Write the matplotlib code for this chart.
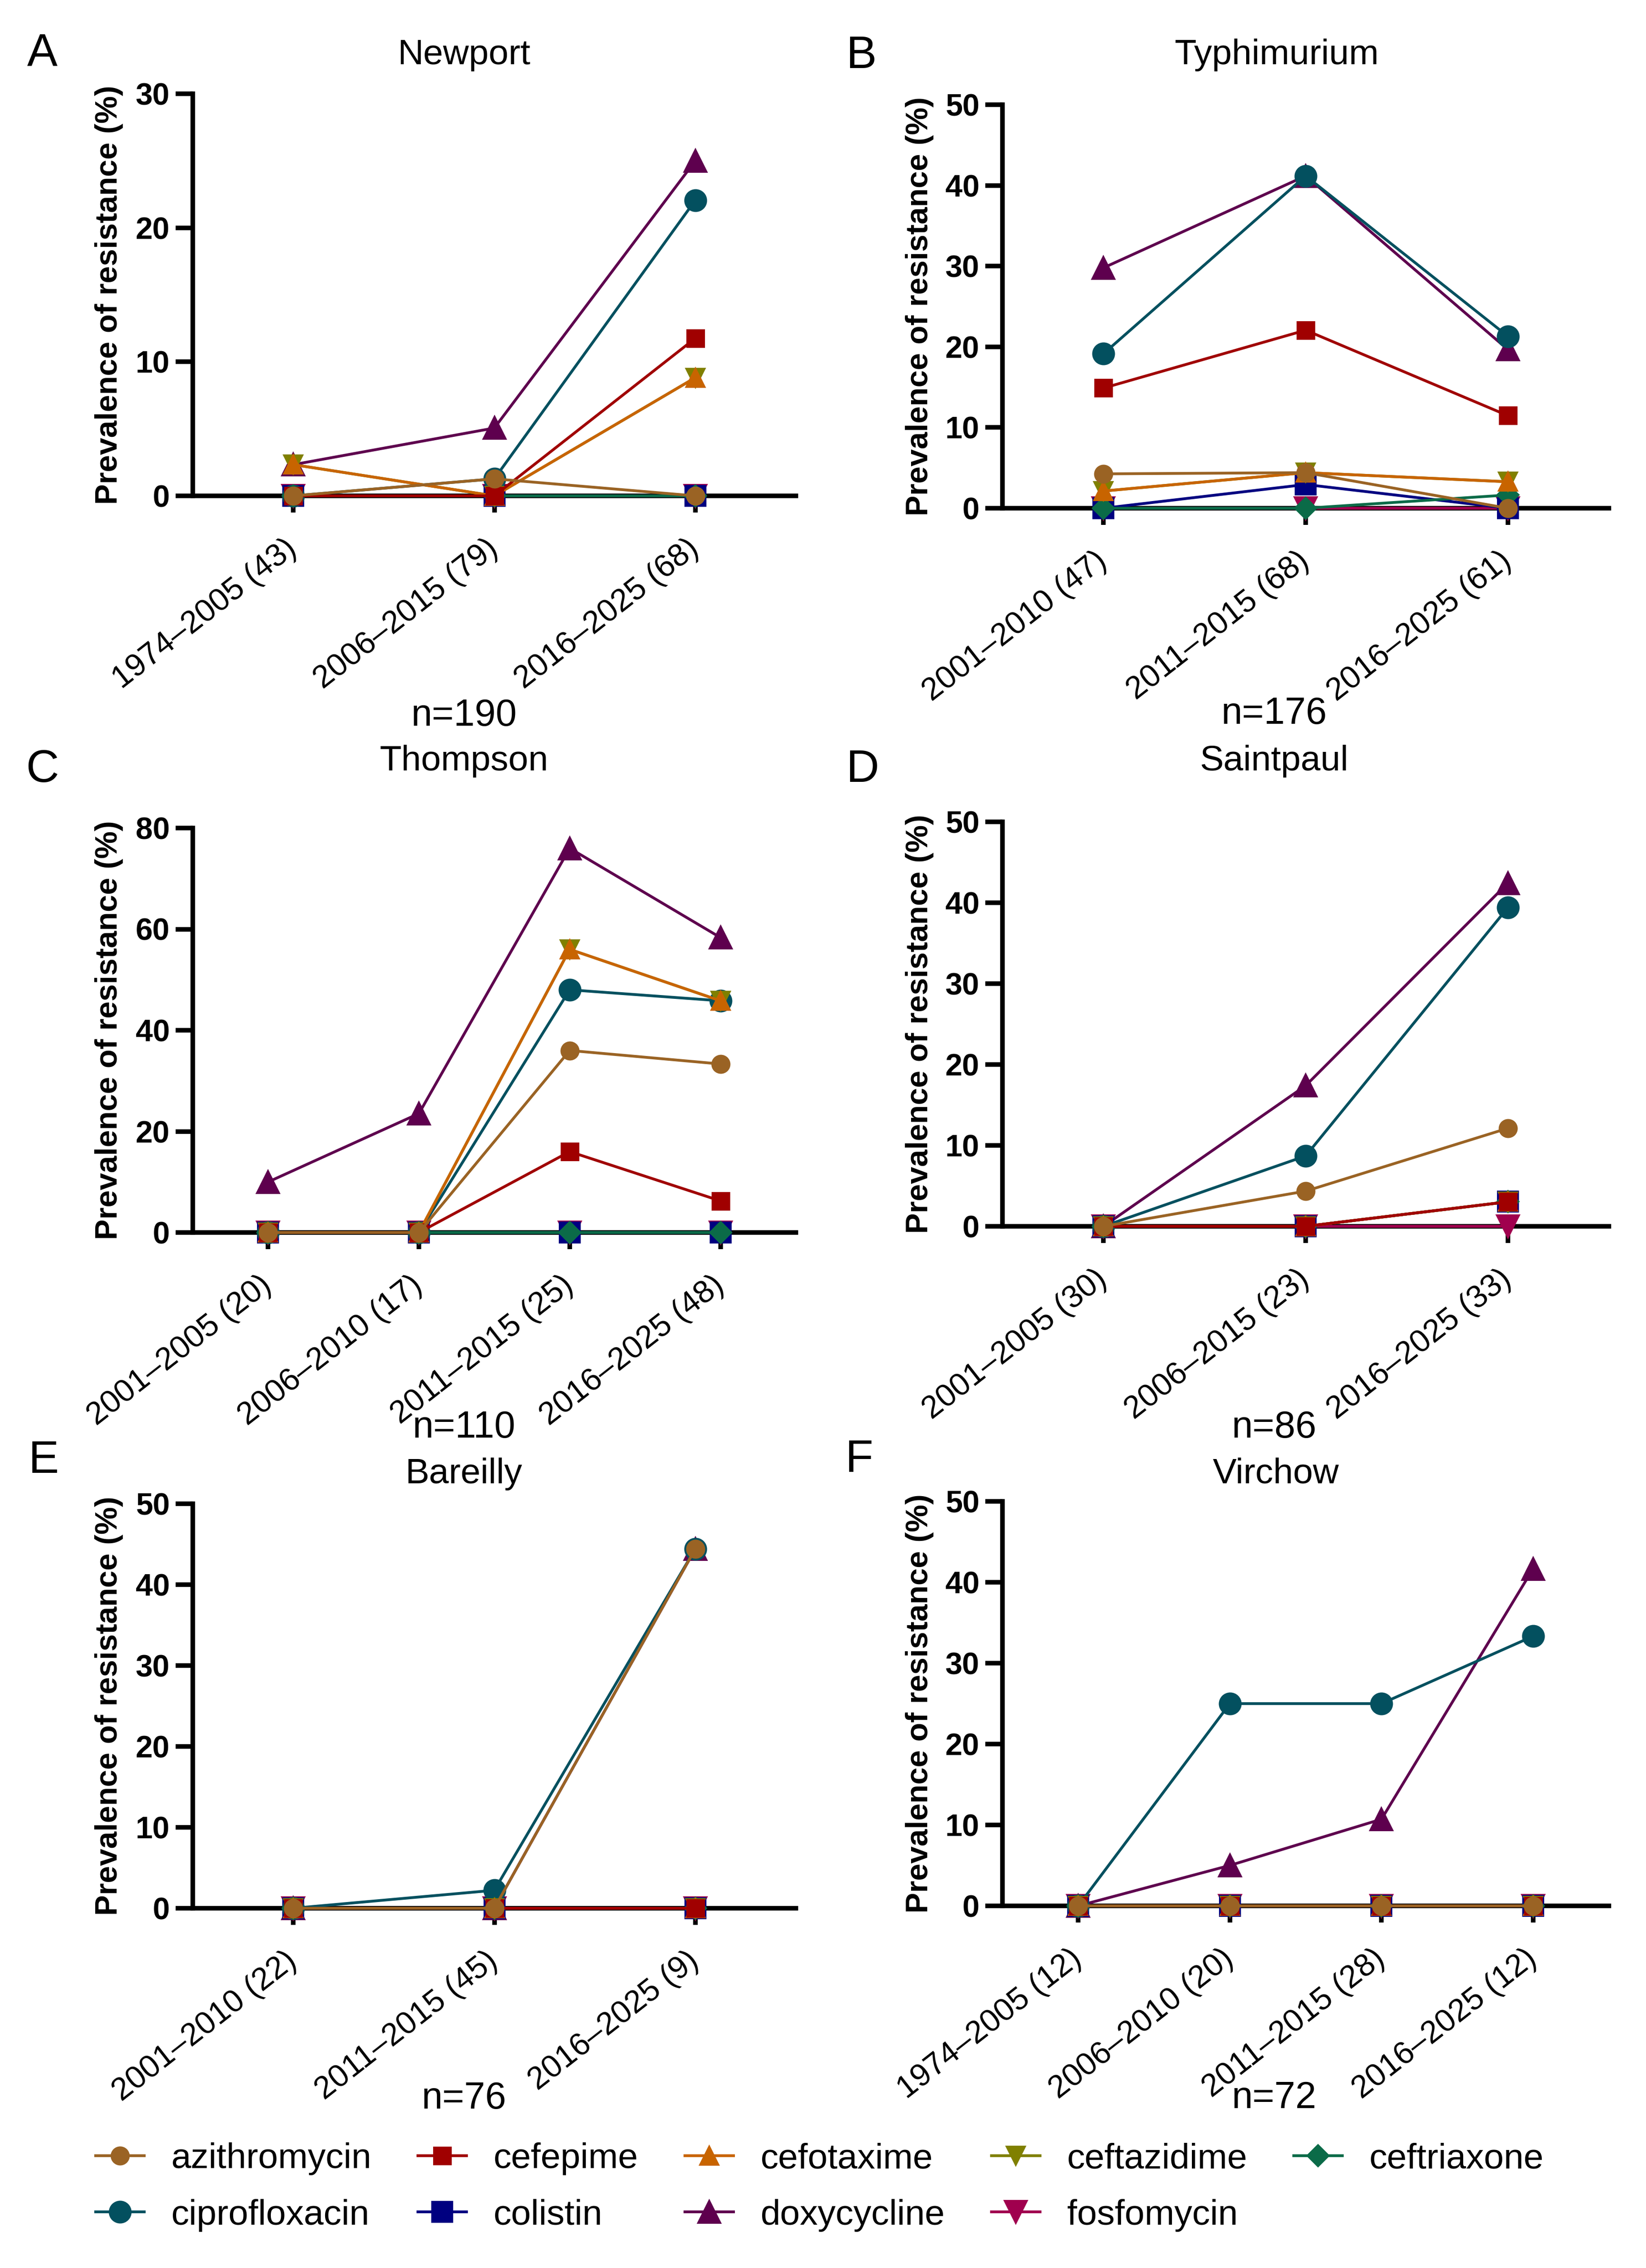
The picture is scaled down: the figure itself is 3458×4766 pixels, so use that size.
import matplotlib
matplotlib.use('Agg')
import matplotlib.pyplot as plt
from matplotlib.lines import Line2D

plt.rcParams['font.family'] = ['Liberation Sans', 'DejaVu Sans']

# ---------------- data ----------------
drugs = ['azithromycin', 'cefepime', 'cefotaxime', 'ceftazidime', 'ceftriaxone',
         'ciprofloxacin', 'colistin', 'doxycycline', 'fosfomycin']
drug_colors = ['#9A6324', '#A00000', '#C86400', '#808000', '#0B6B48',
               '#03505F', '#000080', '#5E004E', '#A0004E']
drug_markers = ['o', 's', '^', 'v', 'D', 'o', 's', '^', 'v']
drug_msizes = [8.6, 8.4, 9, 9, 7.5, 10.5, 10.3, 11, 11]

newport_periods = ['1974–2005 (43)', '2006–2015 (79)', '2016–2025 (68)']
newport_values = [
    [0, 1.27, 0],
    [0, 0, 11.76],
    [2.33, 0, 8.82],
    [2.33, 0, 8.82],
    [0, 0, 0],
    [0, 1.27, 22.06],
    [0, 0, 0],
    [2.33, 5.06, 25.0],
    [0, 0, 0],
]

typhimurium_periods = ['2001–2010 (47)', '2011–2015 (68)', '2016–2025 (61)']
typhimurium_values = [
    [4.26, 4.41, 0],
    [14.89, 22.06, 11.48],
    [2.13, 4.41, 3.28],
    [2.13, 4.41, 3.28],
    [0, 0, 1.64],
    [19.15, 41.18, 21.31],
    [0, 2.94, 0],
    [29.79, 41.18, 19.67],
    [0, 0, 0],
]

thompson_periods = ['2001–2005 (20)', '2006–2010 (17)', '2011–2015 (25)', '2016–2025 (48)']
thompson_values = [
    [0, 0, 36.0, 33.33],
    [0, 0, 16.0, 6.25],
    [0, 0, 56.0, 45.83],
    [0, 0, 56.0, 45.83],
    [0, 0, 0, 0],
    [0, 0, 48.0, 45.83],
    [0, 0, 0, 0],
    [10.0, 23.53, 76.0, 58.33],
    [0, 0, 0, 0],
]

saintpaul_periods = ['2001–2005 (30)', '2006–2015 (23)', '2016–2025 (33)']
saintpaul_values = [
    [0, 4.35, 12.12],
    [0, 0, 3.03],
    [0, 0, 3.03],
    [0, 0, 3.03],
    [0, 0, 3.03],
    [0, 8.70, 39.39],
    [0, 0, 3.03],
    [0, 17.39, 42.42],
    [0, 0, 0],
]

bareilly_periods = ['2001–2010 (22)', '2011–2015 (45)', '2016–2025 (9)']
bareilly_values = [
    [0, 0, 44.44],
    [0, 0, 0],
    [0, 0, 0],
    [0, 0, 0],
    [0, 0, 0],
    [0, 2.22, 44.44],
    [0, 0, 0],
    [0, 0, 44.44],
    [0, 0, 0],
]

virchow_periods = ['1974–2005 (12)', '2006–2010 (20)', '2011–2015 (28)', '2016–2025 (12)']
virchow_values = [
    [0, 0, 0, 0],
    [0, 0, 0, 0],
    [0, 0, 0, 0],
    [0, 0, 0, 0],
    [0, 0, 0, 0],
    [0, 25.0, 25.0, 33.33],
    [0, 0, 0, 0],
    [0, 5.0, 10.71, 41.67],
    [0, 0, 0, 0],
]

panel_titles = ['Newport', 'Typhimurium', 'Thompson', 'Saintpaul', 'Bareilly', 'Virchow']
panel_letters = ['A', 'B', 'C', 'D', 'E', 'F']
panel_totals = ['n=190', 'n=176', 'n=110', 'n=86', 'n=76', 'n=72']
panel_yticks = [[0, 10, 20, 30], [0, 10, 20, 30, 40, 50], [0, 20, 40, 60, 80],
                [0, 10, 20, 30, 40, 50], [0, 10, 20, 30, 40, 50], [0, 10, 20, 30, 40, 50]]
panel_periods = [newport_periods, typhimurium_periods, thompson_periods,
                 saintpaul_periods, bareilly_periods, virchow_periods]
panel_values = [newport_values, typhimurium_values, thompson_values,
                saintpaul_values, bareilly_values, virchow_values]

# ---------------- layout ----------------
W, H = 3458, 4766
DPI = 300
fig = plt.figure(figsize=(W / DPI, H / DPI), dpi=DPI)


def rect(l, r, t, b):
    return [l / W, 1 - b / H, (r - l) / W, (b - t) / H]


axes_px = [(405, 1672, 197, 1042), (2106, 3380, 220, 1068),
           (405, 1672, 1740, 2590), (2106, 3380, 1727, 2577),
           (405, 1672, 3160, 4010), (2106, 3380, 3155, 4005)]
title_px = [(975, 115), (2682, 115), (975, 1600), (2677, 1600), (975, 3097), (2680, 3097)]
letter_px = [(89, 112), (1809, 118), (89, 1618), (1812, 1618), (91, 3070), (1804, 3068)]
total_px = [(975, 1505), (2677, 1500), (975, 3000), (2677, 3000), (975, 4410), (2677, 4410)]
ylabel_x = [-0.115, -0.113, -0.115, -0.113, -0.115, -0.113]

LW_AX = 2.3
for k in range(6):
    ax = fig.add_axes(rect(*axes_px[k]))
    periods = panel_periods[k]
    vals = panel_values[k]
    x = list(range(len(periods)))
    n_d = len(drugs)
    for i in range(n_d):
        ax.plot(x, vals[i], color=drug_colors[i], marker=drug_markers[i],
                markersize=drug_msizes[i], markerfacecolor=drug_colors[i],
                markeredgecolor=drug_colors[i], linewidth=1.4,
                zorder=10 + (n_d - i), clip_on=False)
    yt = panel_yticks[k]
    ax.set_xlim(-0.5, len(periods) - 0.5)
    ax.set_ylim(yt[0], yt[-1])
    ax.set_yticks(yt)
    ax.set_yticklabels([str(v) for v in yt], fontsize=15.5, fontweight='bold')
    ax.set_xticks(x)
    ax.set_xticklabels(periods, fontsize=16, rotation=38, ha='right',
                       va='center', rotation_mode='anchor')
    for s in ['top', 'right']:
        ax.spines[s].set_visible(False)
    for s in ['left', 'bottom']:
        ax.spines[s].set_linewidth(LW_AX)
        ax.spines[s].set_color('black')
    ax.tick_params(axis='y', direction='out', length=8.6, width=LW_AX, pad=3)
    ax.tick_params(axis='x', direction='out', length=8.4, width=LW_AX, pad=16.5)
    ax.set_ylabel('Prevalence of resistance (%)', fontsize=15.6, fontweight='bold')
    ax.yaxis.set_label_coords(ylabel_x[k], 0.5)

    tx, ty = title_px[k]
    fig.text(tx / W, 1 - ty / H, panel_titles[k], fontsize=18, ha='center', va='center')
    lx, ly = letter_px[k]
    fig.text(lx / W, 1 - ly / H, panel_letters[k], fontsize=23, ha='center', va='center')
    nx, ny = total_px[k]
    fig.text(nx / W, 1 - ny / H, panel_totals[k], fontsize=19, ha='center', va='center')

handles = [Line2D([0], [0], color=drug_colors[i], marker=drug_markers[i],
                  markersize=drug_msizes[i], markerfacecolor=drug_colors[i],
                  markeredgecolor=drug_colors[i], linewidth=1.4)
           for i in range(len(drugs))]
# legend reads row by row: 5 entries in the first row, 4 in the second
ncols = 5
order = []
for c in range(ncols):
    for r in range(2):
        idx = r * ncols + c
        if idx < len(drugs):
            order.append(idx)
fig.legend([handles[i] for i in order], [drugs[i] for i in order], ncol=ncols,
           loc='center', bbox_to_anchor=(0.498, 0.0357),
           frameon=False, fontsize=18, handlelength=1.36, handletextpad=0.76,
           columnspacing=1.3, labelspacing=0.66)

fig.savefig('out.png', dpi=DPI, facecolor='white')
